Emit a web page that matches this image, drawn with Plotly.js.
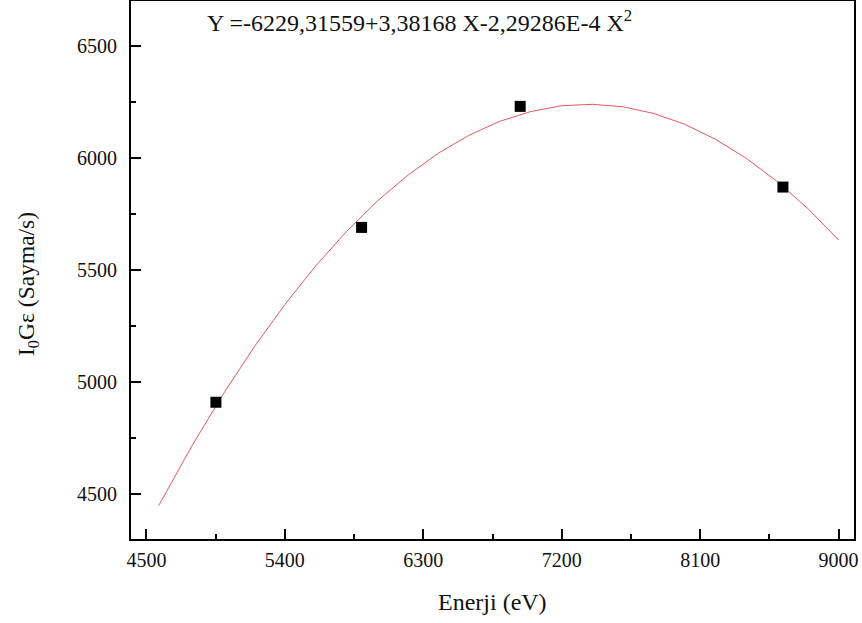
<!DOCTYPE html>
<html>
<head>
<meta charset="utf-8">
<script src="https://cdn.plot.ly/plotly-3.0.1.min.js"></script>
<style>html,body{margin:0;padding:0;background:#fff;}#chart{width:862px;height:623px;}</style>
</head>
<body>
<div id="chart"></div>
<script>
// Measured points
const energy = [4952, 5899, 6930, 8638];
const intensity = [4910, 5690, 6230, 5870];

// Fitted curve
const fitX = [4580, 4800, 5000, 5200, 5400, 5600, 5800, 6000, 6200, 6400, 6600, 6800, 7000, 7200, 7400, 7600, 7800, 8000, 8200, 8400, 8600, 8800, 9000];
const fitY = [4449, 4720, 4947, 5156, 5346, 5518, 5671, 5807, 5923, 6022, 6102, 6164, 6207, 6233, 6239, 6228, 6198, 6150, 6083, 5998, 5895, 5774, 5634];

const xTicks = [4500, 5400, 6300, 7200, 8100, 9000];
const yTicks = [4500, 5000, 5500, 6000, 6500];
const fitLabel = 'Y =-6229,31559+3,38168 X-2,29286E-4 X<sup>2</sup>';
const xTitle = 'Enerji (eV)';
const yTitle = 'I<sub>0</sub>Gε (Sayma/s)';

const fam = '"Liberation Serif", "Times New Roman", serif';
const font = {family: fam, color: '#111', size: 20};

const traces = [
  {x: fitX, y: fitY, mode: 'lines', type: 'scatter', line: {color: 'rgb(228,90,90)', width: 1}, hoverinfo: 'skip'},
  {x: energy, y: intensity, mode: 'markers', type: 'scatter', marker: {symbol: 'square', size: 11, color: '#000'}}
];

const axisCommon = {
  showgrid: false, zeroline: false, showline: true, linecolor: '#000', linewidth: 2,
  mirror: true, ticks: 'inside', ticklen: 10, tickwidth: 2, tickcolor: '#000',
  tickfont: font, automargin: false
};

const layout = {
  width: 862, height: 623,
  margin: {l: 131, r: 8, t: 1, b: 84},
  paper_bgcolor: '#fff', plot_bgcolor: '#fff',
  showlegend: false,
  font: font,
  xaxis: Object.assign({}, axisCommon, {
    range: [4400, 9100], tickvals: xTicks, ticktext: xTicks.map(String),
    ticklabelstandoff: 2,
    minor: {ticks: 'inside', ticklen: 5, tickwidth: 2, tickcolor: '#000', dtick: 450, tick0: 4500}
  }),
  yaxis: Object.assign({}, axisCommon, {
    range: [4300, 6700], tickvals: yTicks, ticktext: yTicks.map(String),
    ticklabelstandoff: 8,
    minor: {ticks: 'inside', ticklen: 5, tickwidth: 2, tickcolor: '#000', dtick: 250, tick0: 4500}
  }),
  annotations: [
    {xref: 'paper', yref: 'paper', x: 0.102, y: 0.963, xanchor: 'left', yanchor: 'middle',
     text: fitLabel, showarrow: false, font: {family: fam, size: 24, color: '#111'}},
    {xref: 'paper', yref: 'paper', x: 0.5, y: -0.117, xanchor: 'center', yanchor: 'middle',
     text: xTitle, showarrow: false, font: {family: fam, size: 24, color: '#111'}},
    {xref: 'paper', yref: 'paper', x: -0.1425, y: 0.474, xanchor: 'center', yanchor: 'middle',
     textangle: -90, text: yTitle, showarrow: false, font: {family: fam, size: 23.5, color: '#111'}}
  ]
};

Plotly.newPlot('chart', traces, layout, {displayModeBar: false, staticPlot: true});
</script>
</body>
</html>
